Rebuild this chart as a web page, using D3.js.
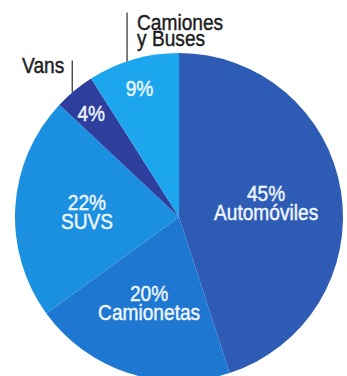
<!DOCTYPE html>
<html>
<head>
<meta charset="utf-8">
<script src="https://cdn.jsdelivr.net/npm/d3@7"></script>
<style>
  html, body { margin: 0; padding: 0; background: #ffffff; }
  svg { display: block; }
  text { font-family: "Liberation Sans", Arial, sans-serif; }
</style>
</head>
<body>
<svg id="chart" width="347" height="376"></svg>
<script>
// Vehicle mix by segment (percent), clockwise from 12 o'clock
const segments = ["Automóviles", "Camionetas", "SUVS", "Vans", "Camiones y Buses"];
const shares = [45, 20, 22, 4, 9];
const sliceColors = ["#2e5cb5", "#1e77d0", "#1b8fe0", "#2d3e9d", "#1ba6ee"];
// Segments whose name sits outside the pie, with a leader line
const outsideNames = { "Vans": ["Vans"], "Camiones y Buses": ["Camiones", "y Buses"] };

const svg = d3.select("#chart");
const cx = 179, cy = 217, radius = 164;
const narrow = 0.87;           // horizontal squeeze for the condensed lettering

const g = svg.append("g").attr("transform", `translate(${cx},${cy})`);

const pie = d3.pie().sort(null).value(d => d.value);
const data = pie(segments.map((name, i) => ({ name, value: shares[i], color: sliceColors[i] })));

const arc = d3.arc().innerRadius(0).outerRadius(radius);
const labelArcBig = d3.arc().innerRadius(radius * 0.55).outerRadius(radius * 0.55);
const labelArcSmall = d3.arc().innerRadius(radius * 0.82).outerRadius(radius * 0.82);

g.selectAll("path.slice")
  .data(data)
  .join("path")
  .attr("class", "slice")
  .attr("d", arc)
  .attr("fill", d => d.data.color);

const fontSize = 22, lineGap = 19, capH = fontSize * 0.716;

// Draws a block of lines whose first baseline is at (x, y), squeezed horizontally
function textBlock(x, y, lines, anchor, fill, gap) {
  const t = g.append("g")
    .attr("transform", `translate(${x},${y}) scale(${narrow},1)`)
    .append("text")
    .attr("text-anchor", anchor)
    .attr("fill", fill)
    .attr("stroke", fill)
    .attr("stroke-width", 0.45)
    .attr("font-size", fontSize);
  lines.forEach((line, i) => {
    t.append("tspan").attr("x", 0).attr("y", i * gap).text(line);
  });
}

// Labels inside the slices
data.forEach(d => {
  const outside = outsideNames[d.data.name];
  const lines = outside ? [d.data.value + "%"] : [d.data.value + "%", d.data.name];
  const [x, y] = (outside ? labelArcSmall : labelArcBig).centroid(d);
  const blockH = capH + (lines.length - 1) * lineGap;
  textBlock(x - 2, y - blockH / 2 + capH, lines, "middle", "#eef6ff", lineGap);
});

// Names outside the pie, each with a vertical leader line up from the rim
data.forEach(d => {
  const names = outsideNames[d.data.name];
  if (!names) return;
  const a = d.startAngle + (d.endAngle - d.startAngle) * 0.43;
  const px = radius * Math.sin(a), py = -radius * Math.cos(a);
  const rise = names.length > 1 ? 49 : 32;
  g.append("line")
    .attr("x1", px).attr("x2", px)
    .attr("y1", py).attr("y2", py - rise)
    .attr("stroke", "#3a3a3a").attr("stroke-width", 1.3);
  if (names.length > 1) {
    textBlock(px + 10, py - rise + 18, names, "start", "#1e1e1e", 16);
  } else {
    textBlock(px - 8, py - rise + 13, names, "end", "#1e1e1e", 16);
  }
});
</script>
</body>
</html>
